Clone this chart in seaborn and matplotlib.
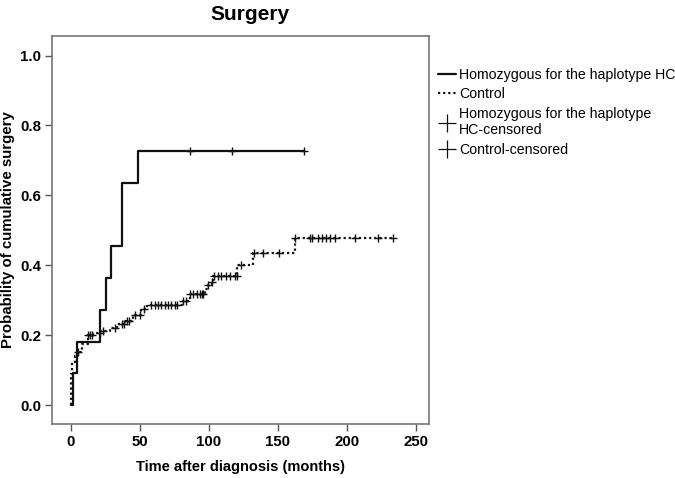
import numpy as np
import pandas as pd
import matplotlib
matplotlib.use("Agg")
import matplotlib.pyplot as plt
import seaborn as sns
from matplotlib.lines import Line2D

# ---- data ----
hc_times = [0, 1.5, 4.6, 20.8, 25.7, 29.3, 37.3, 48.6, 169]
hc_probs = [0, 0.091, 0.182, 0.273, 0.364, 0.455, 0.636, 0.727, 0.727]
hc_censored = [86, 116.4, 168.8]

ctrl_times = [0, 0.3, 1, 3, 5, 8, 12, 16, 21, 28, 33, 39, 45, 51, 55,
              81, 86, 97, 99, 102, 103, 120.5, 132, 162.3, 233.7]
ctrl_probs = [0, 0.09, 0.124, 0.14, 0.153, 0.175, 0.2, 0.205, 0.213, 0.222,
              0.232, 0.241, 0.258, 0.275, 0.287, 0.298, 0.317, 0.331, 0.344,
              0.353, 0.370, 0.401, 0.435, 0.478, 0.478]
ctrl_censored = [5, 12, 13.5, 15.5, 20.8, 23, 31.7, 36.7, 38.4, 40.3, 42.2,
                 46.3, 49.8, 52.7, 58.3, 60.7, 63.1, 65.5, 67.9, 70.3, 72.7,
                 75.2, 76.9, 81.3, 83.2, 86.1, 88.5, 91, 93.4, 95.3, 95.8,
                 99.4, 102.3, 103.8, 106.7, 109.1, 112.3, 115.2, 118.8, 120.4,
                 123.6, 132.5, 139.3, 150.7, 162.3, 173.2, 174.9, 179.2, 181.7,
                 184.8, 187.7, 191.4, 205.9, 222.8, 233.7]

title = "Surgery"
xlabel = "Time after diagnosis (months)"
ylabel = "Probability of cumulative surgery"
legend_labels = ["Homozygous for the haplotype HC", "Control",
                 "Homozygous for the haplotype\nHC-censored", "Control-censored"]


def step_value(times, probs, t):
    times = np.asarray(times)
    idx = np.searchsorted(times, t, side="right") - 1
    return np.asarray(probs)[np.clip(idx, 0, len(probs) - 1)]


hc_df = pd.DataFrame({"time": hc_times, "prob": hc_probs})
ctrl_df = pd.DataFrame({"time": ctrl_times, "prob": ctrl_probs})
hc_c_df = pd.DataFrame({"time": hc_censored,
                        "prob": step_value(hc_times, hc_probs, hc_censored)})
ctrl_c_df = pd.DataFrame({"time": ctrl_censored,
                          "prob": step_value(ctrl_times, ctrl_probs, ctrl_censored)})

sns.set_style("ticks")
plt.rcParams["font.family"] = ["Liberation Sans", "DejaVu Sans"]
plt.rcParams["text.color"] = "black"
plt.rcParams["axes.labelcolor"] = "black"
plt.rcParams["xtick.labelcolor"] = "black"
plt.rcParams["ytick.labelcolor"] = "black"

fig = plt.figure(figsize=(6.75, 4.78), dpi=100)
ax = fig.add_axes([52 / 675, 1 - 424 / 478, (429 - 52) / 675, (424 - 36) / 478])

sns.lineplot(data=hc_df, x="time", y="prob", ax=ax, color="#111111",
             estimator=None, sort=False, drawstyle="steps-post", linewidth=1.6)
sns.lineplot(data=ctrl_df, x="time", y="prob", ax=ax, color="#111111",
             estimator=None, sort=False, drawstyle="steps-post", linewidth=1.6,
             linestyle=(0, (1, 1.3)))
ax.plot(hc_c_df["time"], hc_c_df["prob"], linestyle="none", marker="+",
        markersize=6, markeredgewidth=1.0, color="#111111")
ax.plot(ctrl_c_df["time"], ctrl_c_df["prob"], linestyle="none", marker="+",
        markersize=6, markeredgewidth=1.0, color="#111111")

ax.set_xlim(-13.8, 259.6)
ax.set_ylim(-0.054, 1.056)
ax.set_xticks([0, 50, 100, 150, 200, 250])
ax.set_yticks([0.0, 0.2, 0.4, 0.6, 0.8, 1.0])
ax.set_yticklabels([f"{v:.1f}" for v in [0.0, 0.2, 0.4, 0.6, 0.8, 1.0]])
for lab in ax.get_xticklabels() + ax.get_yticklabels():
    lab.set_fontweight("bold")
    lab.set_fontsize(10.8)
    lab.set_color("black")
ax.tick_params(axis="both", length=5, width=1, color="#555555", pad=3)
for s in ax.spines.values():
    s.set_visible(True)
    s.set_color("#777777")
    s.set_linewidth(1.2)

ax.set_xlabel(xlabel, fontsize=10.5, fontweight="bold", color="black")
ax.set_ylabel(ylabel, fontsize=10.8, fontweight="bold", color="black")
ax.xaxis.set_label_coords(0.5, (424 - 467) / 388)
ax.xaxis.label.set_va("center")
ax.yaxis.set_label_coords((8 - 52) / 377, 0.5)
ax.yaxis.label.set_va("center")
fig.text(250 / 675, 1 - 20 / 478, title, ha="center", va="baseline",
         fontsize=15, fontweight="bold", color="black")

handles = [
    Line2D([], [], color="#111111", linewidth=1.6),
    Line2D([], [], color="#111111", linewidth=1.6, linestyle=(0, (1, 1.3))),
    Line2D([], [], color="#111111", linestyle="none", marker="+",
           markersize=13, markeredgewidth=0.9),
    Line2D([], [], color="#111111", linestyle="none", marker="+",
           markersize=13, markeredgewidth=0.9),
]
leg = fig.legend(handles, legend_labels, loc="upper left",
                 bbox_to_anchor=(432 / 675, 1 - 62 / 478), frameon=False,
                 fontsize=10.2, handlelength=1.3, handletextpad=0.2,
                 labelspacing=0.4, borderaxespad=0)
for t in leg.get_texts():
    t.set_color("black")

fig.savefig("out.png", dpi=100)
